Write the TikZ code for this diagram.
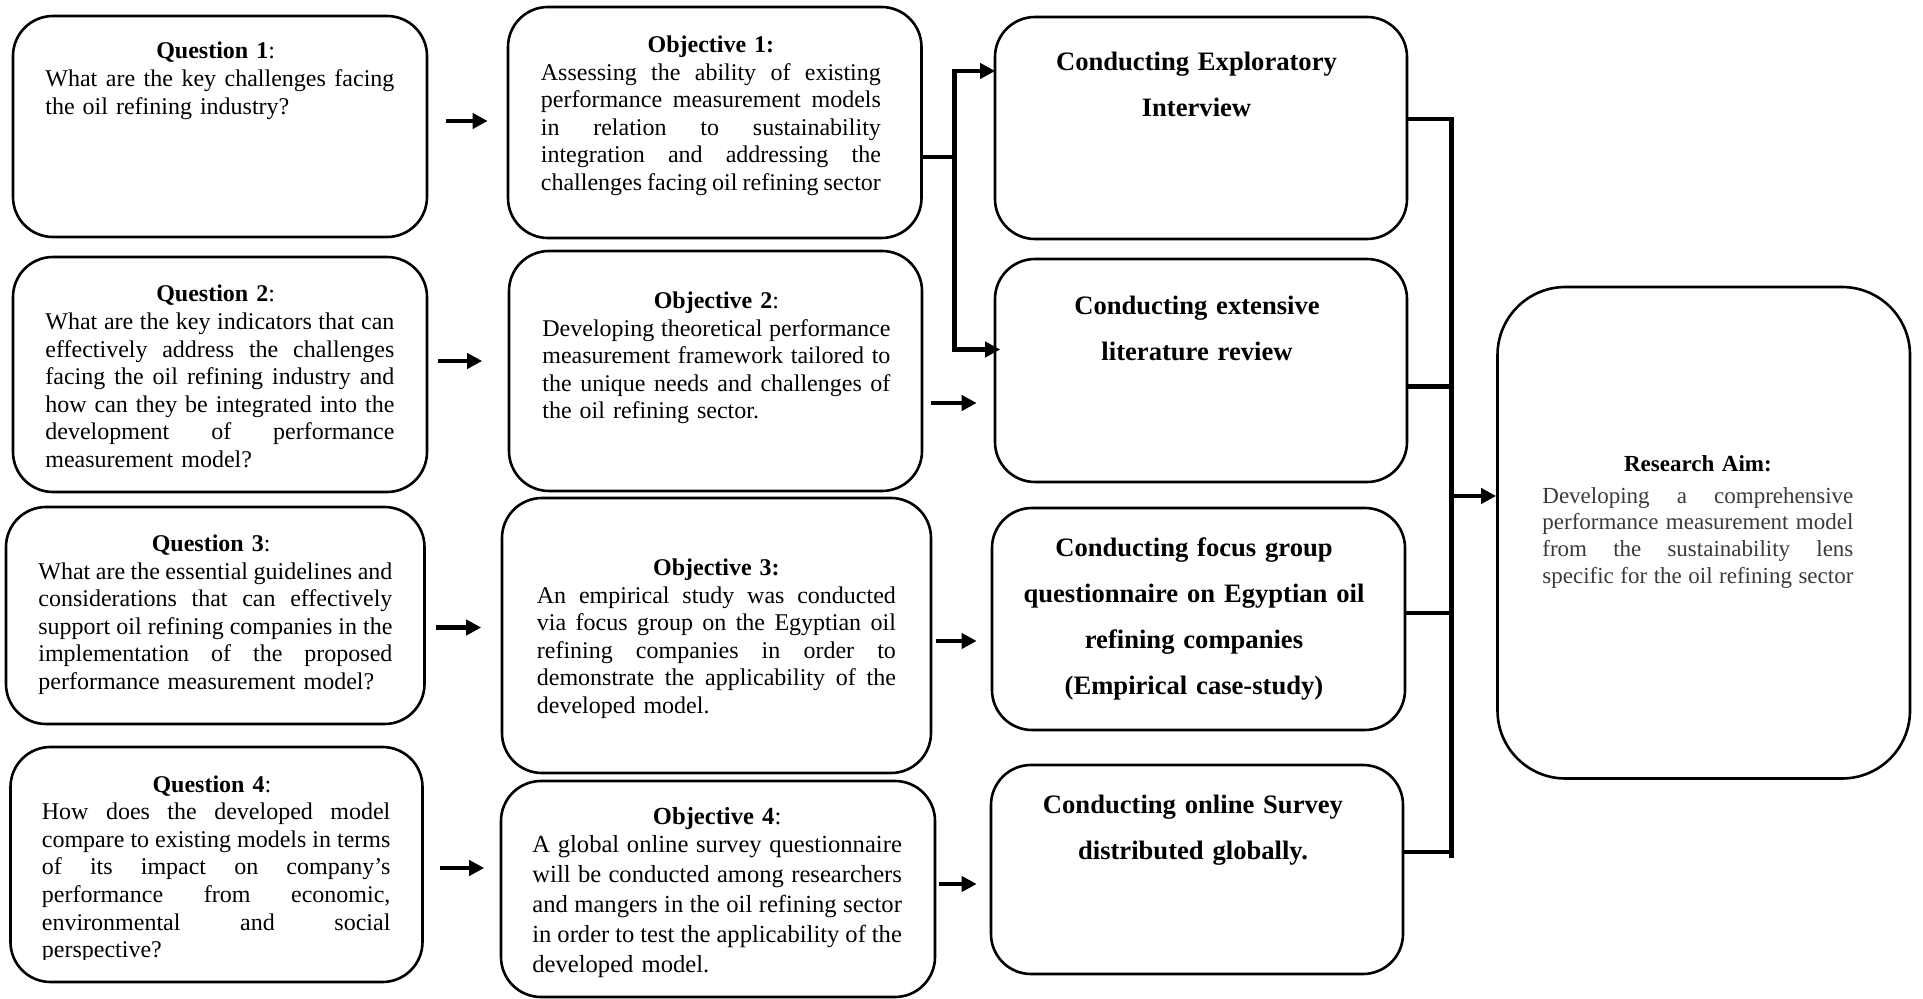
\documentclass[tikz,border=0pt]{standalone}
\usepackage{fontspec}
\setmainfont{Liberation Serif}
\usetikzlibrary{calc,fit,arrows.meta}

% one justified line of a text block (stretchable word spaces), and one centred line
\newcommand\jl[1]{\makebox[\hsize][s]{\spaceskip=.25em plus .6em minus .09em\relax
  \xspaceskip=\spaceskip #1}}
\newcommand\hl[1]{\makebox[\hsize][c]{#1}}
% question headings sit a little left of the block centre
\newcommand\qhd[1]{\hl{\textbf{Question #1}:\kern4.3pt}}
\definecolor{aimgray}{HTML}{3A3A3A}

\begin{document}
\begin{tikzpicture}[x=0.5pt,y=-0.5pt,
  rbox/.style={draw, line width=1.3pt, rounded corners=20pt, inner sep=0pt},
  aimbox/.style={rbox, rounded corners=34pt},
  body/.style={anchor=base west, inner sep=0pt, align=left,
               font=\fontsize{12}{13.8}\selectfont},
  ctext/.style={anchor=base, inner sep=0pt, text width=210pt, align=center,
                font=\fontsize{13.3}{23}\selectfont\bfseries},
  arr/.style={line width=2.4pt, -{Triangle[length=7.5pt,width=7.5pt]}},
  bus/.style={line width=2.4pt}
]
\useasboundingbox (0,0) rectangle (1923,999);
\fill[white] (0,0) rectangle (1923,999);

% ---- boxes ----
\node[rbox, fit={(13,16) (427,237)}] (q1) {};
\node[rbox, fit={(13,257) (427,492)}] (q2) {};
\node[rbox, fit={(6,507) (424.5,724)}] (q3) {};
\node[rbox, fit={(10.5,747) (422.5,982)}] (q4) {};

\node[rbox, fit={(508,7) (921.5,238)}] (o1) {};
\node[rbox, fit={(509,251) (922,491)}] (o2) {};
\node[rbox, fit={(502,498) (931,773)}] (o3) {};
\node[rbox, fit={(501,781) (935,997)}] (o4) {};

\node[rbox, fit={(995,17) (1407,239)}] (c1) {};
\node[rbox, fit={(995,259) (1407,482)}] (c2) {};
\node[rbox, fit={(992,508) (1405,730)}] (c3) {};
\node[rbox, fit={(991,765) (1403,974)}] (c4) {};

\node[aimbox, fit={(1497.5,287) (1910,778.5)}] (aim) {};

% ---- questions ----
\node[body, text width=174.5pt] (q1t) at (45,59) {%
\qhd{1}\\
\jl{What are the key challenges facing}\\
the oil refining industry?};

\node[body, text width=174.5pt] (q2t) at (45,302) {%
\qhd{2}\\
\jl{What are the key indicators that can}\\
\jl{effectively address the challenges}\\
\jl{facing the oil refining industry and}\\
\jl{how can they be integrated into the}\\
\jl{development of performance}\\
measurement model?};

\node[body, text width=177pt] (q3t) at (38,551.5) {%
\qhd{3}\\
\jl{What are the essential guidelines and}\\
\jl{considerations that can effectively}\\
\jl{support oil refining companies in the}\\
\jl{implementation of the proposed}\\
performance measurement model?};

\begin{scope}
\clip (q4.north west) rectangle ($(q4.south east)+(0,-24)$);
\node[body, text width=174.25pt] (q4t) at (41.5,792) {%
\qhd{4}\\
\jl{How does the developed model}\\
\jl{compare to existing models in terms}\\
\jl{of its impact on company’s}\\
\jl{performance from economic,}\\
\jl{environmental and social}\\
perspective?};
\end{scope}

% ---- objectives ----
\node[body, text width=170pt] (o1t) at (540.5,52.5) {%
\hl{\textbf{Objective 1:}}\\
\jl{Assessing the ability of existing}\\
\jl{performance measurement models}\\
\jl{in relation to sustainability}\\
\jl{integration and addressing the}\\
\jl{challenges facing oil refining sector}};

\node[body, text width=174pt] (o2t) at (542,308.5) {%
\hl{\textbf{Objective 2}:}\\
\jl{Developing theoretical performance}\\
\jl{measurement framework tailored to}\\
\jl{the unique needs and challenges of}\\
the oil refining sector.};

\node[body, text width=179.5pt] (o3t) at (536.5,575.5) {%
\hl{\textbf{Objective 3:}}\\
\jl{An empirical study was conducted}\\
\jl{via focus group on the Egyptian oil}\\
\jl{refining companies in order to}\\
\jl{demonstrate the applicability of the}\\
developed model.};

\node[body, text width=184.75pt, font=\fontsize{12.3}{15}\selectfont] (o4t) at (532,824.5) {%
\hl{\textbf{Objective 4}:}\\[-1.15pt]
\jl{A global online survey questionnaire}\\
\jl{will be conducted among researchers}\\
\jl{and mangers in the oil refining sector}\\
\jl{in order to test the applicability of the}\\
developed model.};

% ---- methods ----
\node[ctext] (c1t) at (1196.5,71) {Conducting Exploratory\\ Interview};
\node[ctext] (c2t) at (1197,314.5) {Conducting extensive\\ literature review};
\node[ctext] (c3t) at (1194,556.5) {Conducting focus group\\ questionnaire on Egyptian oil\\ refining companies\\ (Empirical case-study)};
\node[ctext] (c4t) at (1193,813) {Conducting online Survey\\ distributed globally.};

% ---- research aim ----
\node[body, text width=155.5pt, font=\fontsize{11.5}{13.35}\selectfont] (aimt) at (1542,472) {%
\hl{\textbf{Research Aim:}}\\[2.2pt]
\color{aimgray}\jl{Developing a comprehensive}\\
\jl{performance measurement model}\\
\jl{from the sustainability lens}\\
\jl{specific for the oil refining sector}};

% ---- question -> objective ----
\draw[arr] ($(q1.east)+(18,-5.5)$) -- ($(o1.west)+(-19,-1.5)$);
\draw[arr] ($(q2.east)+(10,-13.5)$) -- ($(o2.west)+(-25.5,-10)$);
\draw[arr] ($(q3.east)+(10.5,12)$) -- ($(o3.west)+(-19.5,-8)$);
\draw[arr] ($(q4.east)+(16.5,3.5)$) -- ($(o4.west)+(-15.5,-21)$);

% ---- objective -> method ----
\coordinate (fk) at ($(o1.east)+(31.5,34.5)$);
\draw[bus] ($(o1.east)+(0,34.5)$) -- (fk);
\draw[arr] (fk) |- ($(c1.west)+(1.5,-57)$);
\draw[arr] (fk) |- ($(c2.west)+(6.5,-21)$);
\draw[arr] ($(o2.east)+(8,32)$) -- ($(c2.west)+(-17,32.5)$);
\draw[arr] ($(o3.east)+(3.5,5.5)$) -- ($(c3.west)+(-14,22)$);
\draw[arr] ($(o4.east)+(3,-5)$) -- ($(c4.west)+(-13,14.5)$);

% ---- methods -> research aim ----
\coordinate (bt) at ($(c1.east)+(43,-9)$);
\coordinate (bb) at ($(c4.east)+(47,-11.5)$);
\draw[bus] ($(c1.east)+(0,-9)$) -- (bt) -- (bb);
\draw[bus] ($(c2.east)+(0,16)$) -- ++(43,0);
\draw[bus] ($(c3.east)+(0,-6)$) -- ++(45,0);
\draw[bus] ($(c4.east)+(0,-17.5)$) -- ++(47,0);
\coordinate (ain) at ($(aim.west)+(0,-36.75)$);
\draw[arr] (bt |- ain) -- (ain);
\end{tikzpicture}
\end{document}
